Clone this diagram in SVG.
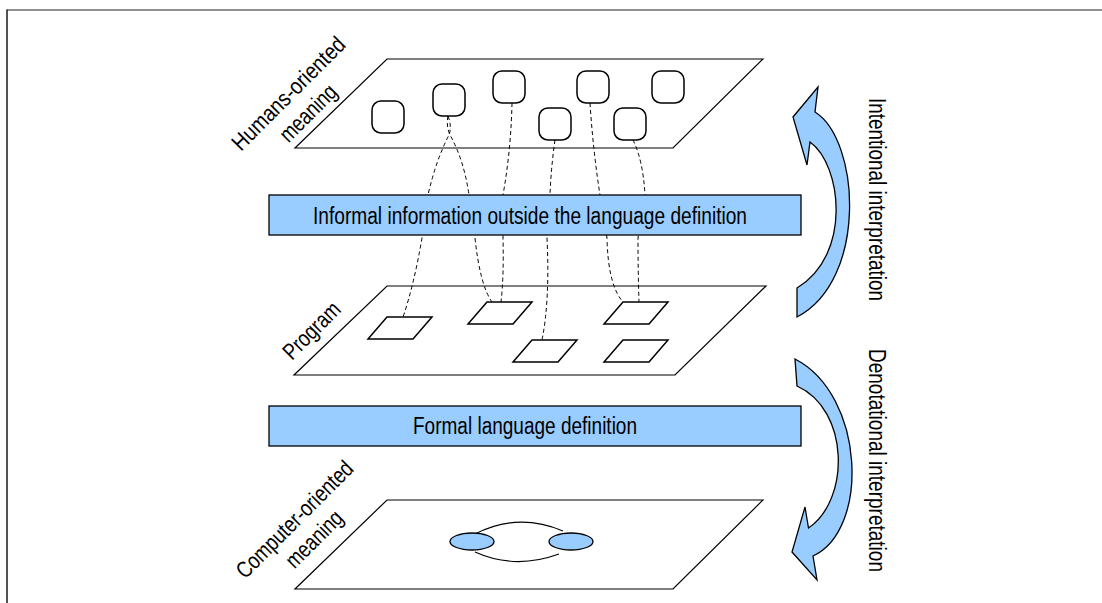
<svg xmlns="http://www.w3.org/2000/svg" width="1102" height="603" viewBox="0 0 1102 603">
  <style>
    .plane { fill: #ffffff; stroke: #000000; stroke-width: 1.2; }
    .item { fill: #ffffff; stroke: #000000; stroke-width: 1.5; }
    .bar { fill: #99ccff; stroke: #000000; stroke-width: 1.3; }
    .blue { fill: #99ccff; stroke: #000000; stroke-width: 1.3; }
    .link { fill: none; stroke: #000000; stroke-width: 1; stroke-dasharray: 4 3; }
    .arc { fill: none; stroke: #000000; stroke-width: 1.2; }
    .lbl { font-family: "Liberation Sans Narrow", "Arial Narrow", "Liberation Sans", Arial, sans-serif; font-size: 23px; fill: #000000; }
    .mid { text-anchor: middle; }
  </style>

  <!-- page frame -->
  <g id="frame">
    <line x1="7" y1="10" x2="1102" y2="10" stroke="#6b6b6b" stroke-width="1.5"/>
    <line x1="7" y1="9.5" x2="7" y2="603" stroke="#1a1a1a" stroke-width="1.5"/>
  </g>

  <!-- upper layer: human meaning -->
  <g id="humans-plane">
    <polygon class="plane" points="387,59 763,59 673,148 295,148"/>
    <rect class="item" x="372" y="101" width="32" height="32" rx="9"/>
    <rect class="item" x="433" y="84" width="32" height="32" rx="9"/>
    <rect class="item" x="493" y="71" width="32" height="32" rx="9"/>
    <rect class="item" x="539" y="108" width="32" height="32" rx="9"/>
    <rect class="item" x="577" y="71" width="32" height="32" rx="9"/>
    <rect class="item" x="614" y="108" width="32" height="32" rx="9"/>
    <rect class="item" x="652" y="71" width="32" height="32" rx="9"/>
    <g class="lbl mid" transform="translate(294,99) rotate(-45)">
      <text x="0" y="0" textLength="150" lengthAdjust="spacingAndGlyphs">Humans-oriented</text>
      <text x="0" y="27.6" textLength="71" lengthAdjust="spacingAndGlyphs">meaning</text>
    </g>
  </g>

  <!-- middle layer: program -->
  <g id="program-plane">
    <polygon class="plane" points="387,286 766,286 675,375 294,375"/>
    <polygon class="item" points="387,317 432,317 413,339 368,339"/>
    <polygon class="item" points="487,302 532,302 513,324 468,324"/>
    <polygon class="item" points="532,340 577,340 558,362 513,362"/>
    <polygon class="item" points="623,302 668,302 649,324 604,324"/>
    <polygon class="item" points="623,340 668,340 649,362 604,362"/>
    <text class="lbl mid" transform="translate(317,336) rotate(-45)" textLength="71" lengthAdjust="spacingAndGlyphs">Program</text>
  </g>

  <!-- lower layer: computer meaning -->
  <g id="computer-plane">
    <polygon class="plane" points="387,500 763,500 673,589 295,589"/>
    <path class="arc" d="M 475 534 Q 518 512 563 531"/>
    <path class="arc" d="M 475 552 Q 515 570 559 554"/>
    <ellipse class="blue" cx="472" cy="541.5" rx="22" ry="8.5"/>
    <ellipse class="blue" cx="571" cy="541.5" rx="22" ry="8.5"/>
    <g class="lbl mid" transform="translate(300,525) rotate(-45)">
      <text x="0" y="0" textLength="155" lengthAdjust="spacingAndGlyphs">Computer-oriented</text>
      <text x="0" y="27.6" textLength="71" lengthAdjust="spacingAndGlyphs">meaning</text>
    </g>
  </g>

  <!-- dashed links between meanings and program parts -->
  <g id="connectors">
    <path class="link" d="M 448 116 Q 452 126 449 135 Q 436 160 428 195 L 422 238 Q 414 285 403 317"/>
    <path class="link" d="M 448 116 Q 446 126 450 135 Q 464 160 469 195 L 475 238 Q 480 285 492 302"/>
    <path class="link" d="M 512 103 Q 511 150 503 195 L 503 238 Q 504 275 501 302"/>
    <path class="link" d="M 555 140 Q 551 168 550 195 L 547 238 Q 550 300 542 340"/>
    <path class="link" d="M 590 103 Q 593 150 600 195 L 607 238 Q 608 285 623 302"/>
    <path class="link" d="M 633 140 Q 643 160 645 195 L 638 238 Q 638 270 639 302"/>
  </g>

  <g id="informal-bar">
    <rect class="bar" x="269" y="195" width="532" height="40"/>
    <text class="lbl mid" x="530" y="223.5" textLength="434" lengthAdjust="spacingAndGlyphs">Informal information outside the language definition</text>
  </g>

  <g id="formal-bar">
    <rect class="bar" x="269" y="406" width="532" height="40"/>
    <text class="lbl mid" x="525" y="434" textLength="224" lengthAdjust="spacingAndGlyphs">Formal language definition</text>
  </g>

  <!-- interpretation arrows -->
  <g id="intentional">
    <path class="blue" stroke-linejoin="miter" d="M 818 87 L 793 117 L 807 165 L 810 142 C 842 165 852 255 797 288 L 797 317 C 868 280 860 140 815 112 Z"/>
    <text class="lbl mid" transform="translate(869,199.5) rotate(90)" textLength="203" lengthAdjust="spacingAndGlyphs">Intentional interpretation</text>
  </g>

  <g id="denotational">
    <path class="blue" stroke-linejoin="miter" d="M 795 359 C 865 395 870 530 813 556 L 817 580 L 792 552 L 805 507 L 808.5 528 C 850 500 850 410 797 386 Z"/>
    <text class="lbl mid" transform="translate(869,460.5) rotate(90)" textLength="223" lengthAdjust="spacingAndGlyphs">Denotational interpretation</text>
  </g>
</svg>
